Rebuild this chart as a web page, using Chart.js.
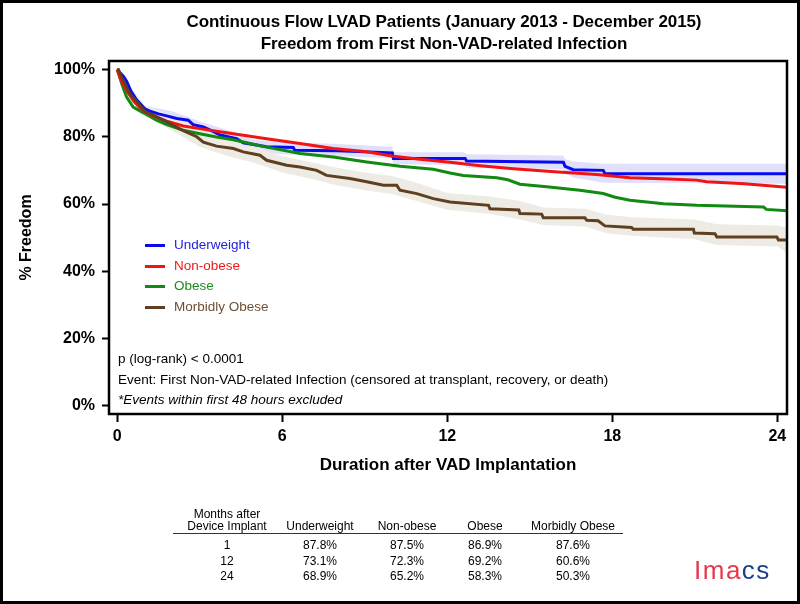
<!DOCTYPE html>
<html><head><meta charset="utf-8">
<script src="https://cdn.jsdelivr.net/npm/chart.js@4.4.1/dist/chart.umd.min.js"></script>
<style>
html,body{margin:0;padding:0;background:#fff;}
#wrap{position:relative;width:800px;height:604px;overflow:hidden;font-family:"Liberation Sans",Arial,sans-serif;background:#fff;}
#c{position:absolute;left:0;top:0;}
.frame{position:absolute;left:0;top:0;width:794px;height:598px;border:3px solid #000;pointer-events:none;}
.title{position:absolute;left:144px;width:600px;text-align:center;font-weight:bold;font-size:17px;line-height:22px;color:#000;top:11px;letter-spacing:-0.1px;}
.leg{position:absolute;left:145px;font-size:13.5px;line-height:16px;}
.leg span.sw{position:absolute;left:0;top:7px;width:20px;height:3px;}
.leg span.tx{position:absolute;left:29px;top:0;white-space:nowrap;}
.note{position:absolute;left:118px;font-size:13.5px;line-height:16px;color:#000;white-space:nowrap;}
.cell{position:absolute;width:140px;text-align:center;font-size:12px;line-height:14px;color:#000;white-space:nowrap;}
.rule{position:absolute;left:173px;width:450px;top:533px;height:0;border-top:1.5px solid #333;}
.logo{position:absolute;left:694px;top:556px;font-size:26px;line-height:28px;letter-spacing:1.5px;}
</style></head>
<body>
<div id="wrap">
<canvas id="c" width="800" height="604"></canvas>
<div class="title">Continuous Flow LVAD Patients (January 2013 - December 2015)<br>Freedom from First Non-VAD-related Infection</div>
<div id="legend"></div>
<div class="note" style="top:351px">p (log-rank) &lt; 0.0001</div>
<div class="note" style="top:372px">Event: First Non-VAD-related Infection (censored at transplant, recovery, or death)</div>
<div class="note" style="top:392px;font-style:italic">*Events within first 48 hours excluded</div>
<div id="table"></div>
<div class="rule"></div>
<div class="logo"><span style="color:#e8374b">Im</span><span style="color:#e8374b">a</span><span style="color:#1d3e8e">cs</span></div>
<div class="frame"></div>
</div>
<script>
// ---- data ----
const seriesNames = ['Underweight', 'Non-obese', 'Obese', 'Morbidly Obese'];
const seriesColors = ['#0a0af0', '#f01414', '#118a11', '#5e3f1f'];
const legendTextColors = ['#2222dd', '#e81c1c', '#1f8c1f', '#6e5034'];

const uwMonths = [0, 0.1, 0.22, 0.34, 0.5, 0.7, 1.0, 1.19, 1.5, 1.8, 2.16, 2.58, 2.76, 3.13, 3.5, 3.74, 4.34, 4.58, 5.43, 6.4, 6.45, 8.0, 10.0, 10.04, 12.65, 12.7, 16.22, 16.28, 16.58, 17.67, 17.73, 24.35];
const uwPct    = [100, 99, 98, 96.5, 93.5, 91, 88.3, 87.6, 86.8, 86.2, 85.4, 84.9, 83.6, 82.9, 81.5, 80.5, 79.4, 78.2, 77, 76.8, 76, 75.8, 75.2, 73.5, 73.5, 72.8, 72.4, 71.2, 70.2, 70.0, 69.0, 69.0];

const nfMonths = [0, 0.1, 0.22, 0.4, 0.6, 0.8, 1.0, 1.19, 1.8, 2.4, 3.0, 3.61, 4.22, 5.43, 6.64, 7.85, 9.07, 10.04, 11.0, 12.1, 13.2, 14.4, 15.9, 17.43, 18.64, 19.8, 21.07, 21.43, 22.8, 24.35];
const nfPct    = [100, 97.5, 95.5, 93, 90.5, 88.8, 87.5, 86.6, 84.6, 83.2, 82.4, 81.6, 80.9, 79.4, 78.0, 76.5, 75.5, 74.2, 73.3, 72.4, 71.4, 70.5, 69.6, 68.8, 67.8, 67.5, 67.1, 66.6, 66.0, 65.0];

const obMonths = [0, 0.08, 0.16, 0.34, 0.58, 0.95, 1.0, 1.43, 1.8, 2.4, 3.0, 3.61, 4.22, 4.83, 5.43, 6.04, 6.64, 7.85, 9.07, 10.28, 11.49, 12.1, 12.58, 13.8, 14.2, 14.64, 15.61, 16.82, 17.67, 18.1, 18.64, 19.86, 21.07, 23.5, 23.6, 24.35];
const obPct    = [100, 98, 95.8, 91.8, 88.8, 87.1, 86.9, 84.9, 83.6, 81.9, 80.9, 79.9, 79.1, 78.0, 76.9, 76.0, 75.0, 74.0, 72.5, 71.2, 70.3, 69.2, 68.5, 67.8, 67.2, 65.9, 65.1, 64.1, 63.1, 62.0, 61.1, 60.1, 59.6, 59.1, 58.4, 58.0];

const moMonths = [0, 0.04, 0.22, 0.46, 0.83, 1.0, 1.19, 1.8, 2.4, 2.89, 3.13, 3.61, 4.22, 4.58, 5.19, 5.43, 6.16, 6.64, 7.25, 7.61, 8.46, 9.07, 9.68, 10.16, 10.28, 10.89, 11.49, 12.1, 13.5, 13.55, 14.6, 14.64, 15.43, 15.49, 17.0, 17.07, 17.48, 17.73, 18.7, 18.76, 20.95, 20.98, 21.73, 21.8, 23.98, 24.04, 24.35];
const moPct    = [100, 100, 96.7, 92.8, 89.3, 87.6, 86.9, 84.4, 81.8, 80.0, 78.4, 77.2, 76.5, 75.5, 74.5, 73.0, 71.5, 71.0, 70.0, 68.5, 67.6, 66.6, 65.6, 65.6, 64.1, 63.1, 61.6, 60.6, 59.6, 58.6, 58.2, 57.2, 57.0, 55.9, 55.9, 55.2, 55.0, 53.5, 53.0, 52.5, 52.5, 51.4, 51.2, 50.2, 50.2, 49.3, 49.3];

// confidence bands
const uwBandMonths = [0, 1, 2, 3, 4, 5, 6, 8, 10, 10.04, 12.6, 12.7, 16.2, 16.3, 16.6, 17.7, 24.35];
const uwLower = [100, 86.5, 84.2, 81.3, 78.2, 75.6, 74.8, 74.2, 73.6, 71.8, 71.6, 70.8, 70.4, 69.0, 67.8, 66.3, 66.0];
const uwUpper = [100, 89.2, 87.6, 84.6, 82.0, 79.0, 78.4, 77.8, 77.0, 75.4, 75.4, 74.8, 74.4, 73.2, 72.6, 72.0, 72.0];

const moBandMonths = [0, 1, 2, 3, 4, 5, 6, 7, 8, 9, 10, 11, 12, 13.5, 14.6, 15.5, 17, 17.8, 18.7, 21, 21.8, 24, 24.35];
const moLower = [100, 86.0, 81.8, 77.0, 74.3, 72.2, 69.4, 67.6, 65.6, 64.1, 63.0, 60.6, 58.3, 57.1, 55.5, 53.8, 53.3, 51.3, 50.6, 49.5, 47.8, 47.4, 45.5];
const moUpper = [100, 89.2, 86.4, 82.2, 79.0, 77.0, 74.2, 72.5, 70.8, 69.4, 68.3, 66.0, 63.3, 62.3, 61.0, 59.0, 58.6, 56.8, 56.1, 55.4, 54.0, 53.6, 53.0];

// axis ticks
const xTickStep = 6;
const yTickStep = 20;

// summary table
const tableMonths = [1, 12, 24];
const tableUW = [87.8, 73.1, 68.9];
const tableNF = [87.5, 72.3, 65.2];
const tableOB = [86.9, 69.2, 58.3];
const tableMO = [87.6, 60.6, 50.3];

// ---- build ----
const pts = (xs, ys) => xs.map((x, i) => ({x: x, y: ys[i]}));
const lineDs = (i, xs, ys, order) => ({
  label: seriesNames[i], data: pts(xs, ys), borderColor: seriesColors[i], backgroundColor: seriesColors[i],
  borderWidth: 3, pointRadius: 0, tension: 0, fill: false, order: order
});
const bandDs = (label, xs, ys, fill, color, order) => ({
  label: label, data: pts(xs, ys), borderWidth: 0, borderColor: 'rgba(0,0,0,0)', pointRadius: 0,
  backgroundColor: color, fill: fill, order: order, tension: 0
});

const datasets = [
  lineDs(0, uwMonths, uwPct, 4),
  lineDs(1, nfMonths, nfPct, 2),
  lineDs(2, obMonths, obPct, 3),
  lineDs(3, moMonths, moPct, 1),
  bandDs('uwL', uwBandMonths, uwLower, false, 'rgba(0,0,0,0)', 9),
  bandDs('uwU', uwBandMonths, uwUpper, '-1', '#e0e0fa', 8),
  bandDs('moL', moBandMonths, moLower, false, 'rgba(0,0,0,0)', 7),
  bandDs('moU', moBandMonths, moUpper, '-1', '#eeebe5', 6)
];

const boxPlugin = {
  id: 'box',
  afterDatasetsDraw(chart) {
    const {ctx, chartArea: a} = chart;
    ctx.save();
    ctx.strokeStyle = '#000';
    ctx.lineWidth = 2.5;
    ctx.strokeRect(a.left, a.top, a.right - a.left, a.bottom - a.top);
    ctx.restore();
  }
};

const tickFont = {family: '"Liberation Sans", Arial, sans-serif', size: 16, weight: 'bold'};
new Chart(document.getElementById('c'), {
  type: 'line',
  data: {datasets: datasets},
  plugins: [boxPlugin],
  options: {
    responsive: false, animation: false, devicePixelRatio: 1,
    layout: {padding: {left: 0, right: 13, top: 61, bottom: 124}},
    plugins: {legend: {display: false}, tooltip: {enabled: false}},
    scales: {
      x: {
        type: 'linear', min: -0.3, max: 24.35,
        afterFit: s => { s.height = 66; },
        border: {display: false},
        grid: {drawOnChartArea: false, drawTicks: true, tickLength: 8, tickWidth: 2, tickColor: '#000'},
        ticks: {stepSize: xTickStep, includeBounds: false, autoSkip: false, maxRotation: 0, color: '#000', font: tickFont, padding: 5},
        title: {display: true, text: 'Duration after VAD Implantation', color: '#000',
          font: {family: '"Liberation Sans", Arial, sans-serif', size: 17, weight: 'bold'}, padding: {top: 0, bottom: 4}}
      },
      y: {
        type: 'linear', min: -2.4, max: 102.5,
        afterFit: s => { s.width = 109; },
        border: {display: false},
        grid: {drawOnChartArea: false, drawTicks: true, tickLength: 7, tickWidth: 2, tickColor: '#000'},
        ticks: {stepSize: yTickStep, includeBounds: false, color: '#000', font: tickFont, padding: 7,
          callback: v => v + '%'},
        title: {display: true, text: '% Freedom', color: '#000',
          font: {family: '"Liberation Sans", Arial, sans-serif', size: 16, weight: 'bold'}, padding: {top: 17, bottom: 0}}
      }
    }
  }
});

// legend (HTML, inside plot)
const legTops = [237, 258, 278, 299];
document.getElementById('legend').innerHTML = seriesNames.map((n, i) =>
  `<div class="leg" style="top:${legTops[i]}px"><span class="sw" style="background:${seriesColors[i]}"></span><span class="tx" style="color:${legendTextColors[i]}">${n}</span></div>`
).join('');

// table
const colX = [227, 320, 407, 485, 573];
let html = '';
const cell = (x, y, t) => `<div class="cell" style="left:${x - 70}px;top:${y}px">${t}</div>`;
html += cell(colX[0], 507, 'Months after');
html += cell(colX[0], 519, 'Device Implant');
seriesNames.forEach((n, i) => { html += cell(colX[i + 1], 519, n); });
const rowTops = [538, 553.5, 569];
const cols = [tableUW, tableNF, tableOB, tableMO];
tableMonths.forEach((m, r) => {
  html += cell(colX[0], rowTops[r], m);
  cols.forEach((c, k) => { html += cell(colX[k + 1], rowTops[r], c[r].toFixed(1) + '%'); });
});
document.getElementById('table').innerHTML = html;
</script>
</body></html>
